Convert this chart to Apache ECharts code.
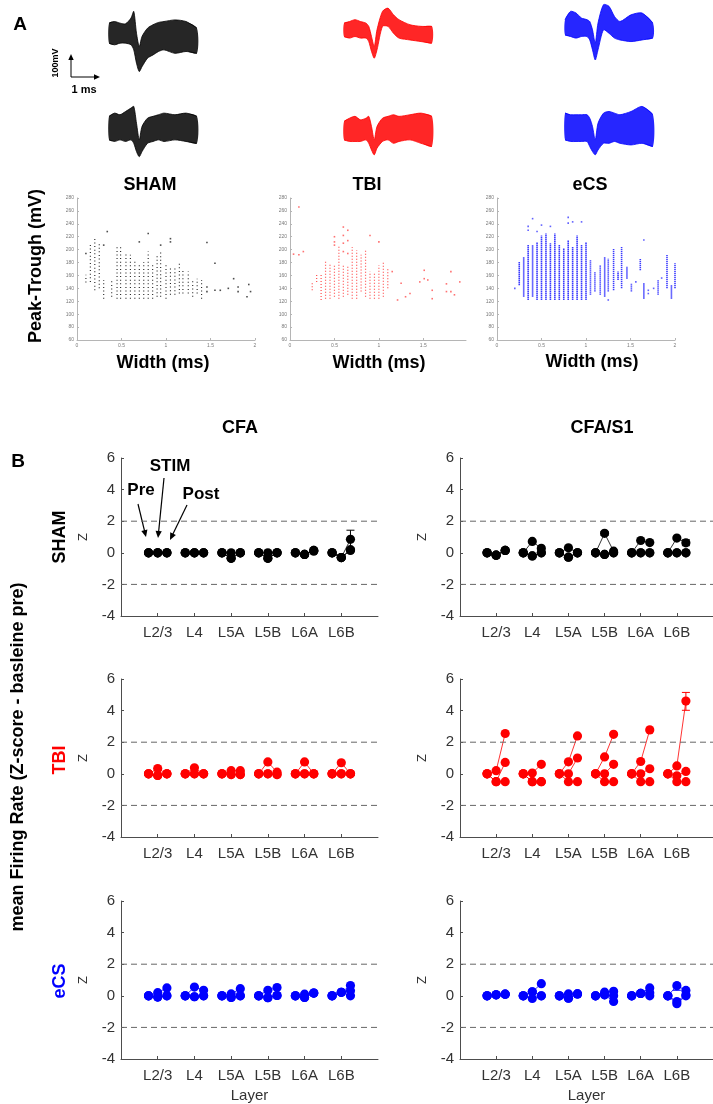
<!DOCTYPE html>
<html>
<head>
<meta charset="utf-8">
<script src="https://cdn.jsdelivr.net/npm/echarts@6/dist/echarts.min.js"></script>
<style>
html, body { margin: 0; padding: 0; background: #fff; }
#chart { width: 713px; height: 1104px; }
</style>
</head>
<body>
<div id="chart"></div>
<script>
// ---- panel A: spike waveforms (envelope of overlaid traces, mV) ----
var waveT = [0, 0.2, 0.4, 0.6, 0.8, 0.9, 1.0, 1.1, 1.2, 1.4, 1.6, 1.8, 2.0, 2.4, 2.8, 3.2];
var shamWave1Hi = [42, 49, 42, 39, 64, 93, -2, -60, -16, 20, 35, 45, 49, 56, 49, 20];
var shamWave1Lo = [-45, -52, -45, -45, -52, -74, -132, -168, -147, -110, -96, -81, -74, -89, -81, -89];
var shamWave2Hi = [15, 29, 22, 36, 51, 58, -15, -87, -29, 7, 15, 22, 29, 22, 29, 15];
var shamWave2Lo = [-87, -94, -87, -94, -87, -102, -138, -160, -138, -102, -94, -87, -94, -87, -94, -102];
var tbiWave1Hi = [42, 49, 57, 49, 42, 28, -16, -60, 13, 93, 107, 78, 57, 35, 28, 28];
var tbiWave1Lo = [-16, -23, -16, -23, -23, -38, -81, -110, -74, 28, 28, -2, -23, -31, -38, -45];
var tbiWave2Hi = [-7, 7, 15, 0, 7, 15, -29, -87, -29, 7, 15, 22, 15, 22, 29, 15];
var tbiWave2Lo = [-87, -94, -94, -94, -87, -102, -131, -152, -123, -94, -87, -102, -94, -87, -102, -116];
var ecsWave1Hi = [57, 93, 86, 64, 57, 49, 13, -45, 42, 122, 115, 71, 49, 78, 86, 42];
var ecsWave1Lo = [-9, -16, -23, -16, -16, -31, -74, -118, -74, 13, -2, -23, -31, -38, -31, -23];
var ecsWave2Hi = [29, 22, 22, 22, 22, 7, -29, -87, -15, 29, 36, 29, 22, 36, 58, 22];
var ecsWave2Lo = [-87, -94, -94, -94, -94, -116, -138, -152, -131, -102, -102, -94, -102, -109, -102, -116];

// ---- panel A: peak-trough vs width; dense columns [width, low, high] + single units [width, mV] ----
var shamCols = [[0.10,149,161],[0.15,150,208],[0.20,137,217],[0.25,140,211],[0.30,124,153],[0.39,127,153],
  [0.45,124,207],[0.49,124,204],[0.55,124,194],[0.60,124,192],[0.65,124,184],[0.70,124,176],[0.75,124,181],
  [0.80,124,197],[0.85,124,176],[0.90,127,192],[0.94,127,197],[1.00,124,176],[1.05,130,171],[1.10,130,171],
  [1.15,132,179],[1.19,132,168],[1.25,132,166],[1.30,127,153],[1.35,132,155],[1.40,124,153]];
var shamPts = [[0.10,194],[0.30,207],[0.34,228],[0.70,212],[0.80,225],[0.94,207],[1.05,217],[1.05,212],
  [1.46,211],[1.46,142],[1.46,135],[1.55,179],[1.55,137],[1.61,137],[1.70,140],[1.76,155],[1.81,142],
  [1.81,135],[1.91,127],[1.93,146],[1.95,135]];
var tbiCols = [[0.25,137,150],[0.30,150,163],[0.35,122,163],[0.40,124,184],[0.45,124,179],[0.50,127,176],
  [0.55,124,207],[0.60,127,176],[0.65,130,176],[0.70,124,204],[0.75,124,199],[0.80,135,192],[0.85,127,199],
  [0.90,124,166],[0.95,124,163],[1.00,124,176],[1.05,127,181],[1.10,140,171]];
var tbiPts = [[0.04,193],[0.10,266],[0.10,192],[0.15,197],[0.50,220],[0.50,212],[0.50,207],[0.60,235],
  [0.60,222],[0.60,210],[0.60,197],[0.65,230],[0.65,214],[0.65,194],[0.90,222],[1.00,212],[1.15,166],
  [1.21,122],[1.25,148],[1.30,127],[1.35,132],[1.46,150],[1.51,168],[1.51,155],[1.55,153],[1.60,137],
  [1.60,124],[1.76,147],[1.76,135],[1.81,166],[1.81,135],[1.85,130],[1.91,150]];
var ecsCols = [[0.25,145,181],[0.30,127,189],[0.35,122,207],[0.40,127,207],[0.45,122,212],[0.50,122,222],
  [0.55,122,225],[0.60,122,210],[0.65,122,225],[0.70,122,207],[0.75,122,202],[0.80,122,215],[0.85,122,204],
  [0.90,122,222],[0.95,122,207],[1.00,122,212],[1.05,130,184],[1.10,135,166],[1.16,130,176],[1.21,127,189],
  [1.25,135,186],[1.31,137,202],[1.36,153,166],[1.40,140,204],[1.46,155,174],[1.51,135,148],[1.61,168,186],
  [1.65,124,148],[1.81,130,153],[1.91,140,192],[1.96,124,145],[2.00,140,179]];
var ecsPts = [[0.20,140],[0.35,236],[0.35,230],[0.40,248],[0.45,228],[0.50,238],[0.60,236],[0.80,250],
  [0.80,241],[0.85,243],[0.95,243],[1.25,122],[1.56,150],[1.65,215],[1.70,137],[1.70,132],[1.76,140],
  [1.85,156]];

// ---- panel B: z-scored firing rate, per layer [pre, stim, post] for three traces ----
var layers = ['L2/3', 'L4', 'L5A', 'L5B', 'L6A', 'L6B'];
var zLimits = [2, -2];

var shamCfa1 = [[0,0,0],[0,0,0],[0,0,0],[0,0,0],[0,-0.1,0.15],[0,-0.3,0.85]];
var shamCfa2 = [[0,0,0],[0,0,0],[0,-0.35,0],[0,-0.35,0],[0,-0.1,0.15],[0,-0.3,0.2]];
var shamCfa3 = [[0,0,0],[0,0,0],[0,-0.35,0],[0,-0.35,0],[0,-0.1,0.1],[0,-0.3,0.15]];
var shamCfaErr = [[6,2,0.3,1.43]];

var shamS1_1 = [[0,-0.15,0.15],[0,0.72,0.28],[0,0.32,0],[0,1.23,0.1],[0,0.78,0.65],[0,0.93,0.63]];
var shamS1_2 = [[0,-0.15,0.15],[0,-0.2,0],[0,-0.28,0],[0,-0.1,0],[0,0,0],[0,0,0]];
var shamS1_3 = [[0,-0.15,0.15],[0,-0.2,0],[0,-0.28,0],[0,-0.1,0],[0,0,0],[0,0,0]];
var shamS1Err = [[4,1,1.1,1.35],[6,2,0.45,0.82]];

var tbiCfa1 = [[0,0.33,0],[0,0.38,0],[0,0.2,0.2],[0,0.75,0.1],[0,0.75,0],[0,0.7,0]];
var tbiCfa2 = [[0,-0.1,0],[0,0,0],[0,-0.05,-0.05],[0,0,-0.05],[0,0,0],[0,0,0]];
var tbiCfa3 = [[0,-0.1,0],[0,0,0],[0,-0.05,-0.05],[0,0,-0.05],[0,0,0],[0,0,0]];
var tbiCfaErr = [];

var tbiS1_1 = [[0,0.2,2.55],[0,0.05,0.6],[0,0.76,2.4],[0,1.07,2.5],[0,0.78,2.78],[0,0.5,4.6]];
var tbiS1_2 = [[0,-0.5,0.72],[0,-0.5,-0.5],[0,0,1.0],[0,0,0.6],[0,0,0.32],[0,-0.13,0.15]];
var tbiS1_3 = [[0,-0.5,-0.5],[0,-0.5,-0.5],[0,-0.5,-0.5],[0,-0.5,-0.5],[0,-0.5,-0.5],[0,-0.5,-0.5]];
var tbiS1Err = [[6,2,4.02,5.15]];

var ecsCfa1 = [[0,0.2,0.5],[0,0.55,0.35],[0,0.12,0.45],[0,0.35,0.52],[0,0.1,0.17],[0,0.22,0.65]];
var ecsCfa2 = [[0,-0.08,0],[0,-0.06,0],[0,-0.1,0],[0,-0.12,0.02],[0,-0.1,0.17],[0,0.22,0.32]];
var ecsCfa3 = [[0,-0.08,0],[0,-0.06,0],[0,-0.1,0],[0,-0.12,0.02],[0,-0.1,0.17],[0,0.22,0]];
var ecsCfaErr = [];

var ecsS1_1 = [[0,0.06,0.1],[0,0.25,0.77],[0,0.12,0.12],[0,0.23,0.28],[0,0.15,0.5],[0,0.64,0.34]];
var ecsS1_2 = [[0,0.06,0.1],[0,-0.17,0],[0,-0.15,0.12],[0,0.06,0],[0,0.15,0.2],[0,-0.36,0.05]];
var ecsS1_3 = [[0,0.06,0.1],[0,0.25,0],[0,-0.15,0.12],[0,0.06,-0.36],[0,0.15,0],[0,-0.5,0]];
var ecsS1Err = [[6,1,0.35,0.8]];

var timeOffset = [-0.25, 0, 0.25];

var FONT = '"Liberation Sans", Arial, sans-serif';
var BLACK = '#000000', RED = '#ff0000', BLUE = '#0000ff';

var chart = echarts.init(document.getElementById('chart'));

var grids = [], xAxes = [], yAxes = [], series = [], graphics = [];

// waveform grids
var waveBoxes = [
  [109, 4, shamWave1Hi, shamWave1Lo, BLACK], [344, 4, tbiWave1Hi, tbiWave1Lo, RED], [565, 4, ecsWave1Hi, ecsWave1Lo, BLUE],
  [109, 91, shamWave2Hi, shamWave2Lo, BLACK], [344, 91, tbiWave2Hi, tbiWave2Lo, RED], [565, 91, ecsWave2Hi, ecsWave2Lo, BLUE]
];
waveBoxes.forEach(function (b) {
  var gi = grids.length;
  grids.push({left: b[0], top: b[1], width: 88, height: 68});
  xAxes.push({gridIndex: gi, type: 'value', min: 0, max: 3.2, show: false});
  yAxes.push({gridIndex: gi, type: 'value', min: -170, max: 125, show: false});
  var hi = b[2], lo = b[3], col = b[4];
  series.push({
    type: 'custom', xAxisIndex: gi, yAxisIndex: gi, silent: true, data: [[0, 0]],
    renderItem: function (params, api) {
      var top = [], bot = [];
      for (var i = 0; i < waveT.length; i++) {
        top.push(api.coord([waveT[i], hi[i]]));
        bot.unshift(api.coord([waveT[i], lo[i]]));
      }
      return {type: 'group', children: [
        {type: 'polygon', shape: {points: top.concat(bot), smooth: 0.25}, style: {fill: col, opacity: 0.85}},
        {type: 'polyline', shape: {points: top, smooth: 0.25}, style: {stroke: col, fill: null, lineWidth: 0.8}},
        {type: 'polyline', shape: {points: bot, smooth: 0.25}, style: {stroke: col, fill: null, lineWidth: 0.8}}
      ]};
    }
  });
});

// scatter grids
var scatBoxes = [
  [77, 178, 2, shamCols, shamPts, '#222222', [1, 2.6], 1.1],
  [290, 176, 1.98, tbiCols, tbiPts, '#ff4d4d', [1, 2], 1.2],
  [497, 178, 2, ecsCols, ecsPts, '#3a3aff', [1.4, 0.6], 1.6]
];
scatBoxes.forEach(function (b) {
  var gi = grids.length;
  grids.push({left: b[0], top: 198, width: b[1], height: 142});
  var axisCommon = {
    axisLine: {show: true, lineStyle: {color: '#b5b5b5', width: 1}},
    axisTick: {show: true, inside: true, length: 2, lineStyle: {color: '#b5b5b5'}},
    splitLine: {show: false}
  };
  xAxes.push(Object.assign({gridIndex: gi, type: 'value', min: 0, max: b[2], interval: 0.5,
    axisLabel: {fontSize: 5, color: '#7a7a7a', fontFamily: FONT, margin: 3, showMaxLabel: b[2] === 2}}, axisCommon));
  yAxes.push(Object.assign({gridIndex: gi, type: 'value', min: 60, max: 280, interval: 20,
    axisLabel: {fontSize: 5, color: '#7a7a7a', fontFamily: FONT, margin: 3}}, axisCommon));
  var col = b[5], dash = b[6], lw = b[7];
  series.push({
    type: 'custom', xAxisIndex: gi, yAxisIndex: gi, silent: true, data: b[3],
    encode: {x: 0, y: [1, 2]},
    renderItem: function (params, api) {
      var p1 = api.coord([api.value(0), api.value(1)]);
      var p2 = api.coord([api.value(0), api.value(2)]);
      return {type: 'line', shape: {x1: p1[0], y1: p1[1], x2: p2[0], y2: p2[1]},
        style: {stroke: col, lineWidth: lw, lineDash: dash}};
    }
  });
  series.push({
    type: 'scatter', xAxisIndex: gi, yAxisIndex: gi, silent: true, data: b[4],
    symbol: 'rect', symbolSize: 1.6, itemStyle: {color: col}
  });
});

// firing-rate panels
var panels = [
  [0, 0, BLACK, [shamCfa1, shamCfa2, shamCfa3], shamCfaErr],
  [0, 1, BLACK, [shamS1_1, shamS1_2, shamS1_3], shamS1Err],
  [1, 0, RED, [tbiCfa1, tbiCfa2, tbiCfa3], tbiCfaErr],
  [1, 1, RED, [tbiS1_1, tbiS1_2, tbiS1_3], tbiS1Err],
  [2, 0, BLUE, [ecsCfa1, ecsCfa2, ecsCfa3], ecsCfaErr],
  [2, 1, BLUE, [ecsS1_1, ecsS1_2, ecsS1_3], ecsS1Err]
];
var rowTops = [458, 679, 901];
var colLefts = [121, 460];

panels.forEach(function (p) {
  var gi = grids.length;
  var row = p[0], colIdx = p[1], col = p[2];
  grids.push({left: colLefts[colIdx], top: rowTops[row], width: 257, height: 158});
  var tickVals = [1, 2, 3, 4, 5, 6];
  xAxes.push({
    gridIndex: gi, type: 'value', min: 0, max: 7,
    name: row === 2 ? 'Layer' : '', nameLocation: 'middle', nameGap: 29,
    nameTextStyle: {fontSize: 15, color: '#333', fontFamily: FONT},
    axisLine: {show: true, onZero: false, lineStyle: {color: '#4d4d4d', width: 1}},
    axisTick: {show: true, inside: true, length: 3, customValues: tickVals, lineStyle: {color: '#4d4d4d'}},
    axisLabel: {customValues: tickVals, fontSize: 15, color: '#333', fontFamily: FONT, margin: 9,
      formatter: function (v) { return layers[v - 1] || ''; }},
    splitLine: {show: false}
  });
  yAxes.push({
    gridIndex: gi, type: 'value', min: -4, max: 6, interval: 2,
    name: 'Z', nameLocation: 'middle', nameGap: 31,
    nameTextStyle: {fontSize: 13, color: '#333', fontFamily: FONT},
    axisLine: {show: true, lineStyle: {color: '#4d4d4d', width: 1}},
    axisTick: {show: true, inside: true, length: 3, lineStyle: {color: '#4d4d4d'}},
    axisLabel: {fontSize: 15, color: '#333', fontFamily: FONT, margin: 6},
    splitLine: {show: false}
  });
  // threshold dashed lines
  zLimits.forEach(function (z) {
    series.push({
      type: 'line', xAxisIndex: gi, yAxisIndex: gi, silent: true, symbol: 'none',
      data: [[0, z], [7, z]],
      lineStyle: {color: '#666', width: 1, type: [6, 4]}
    });
  });
  var items = [];
  p[3].forEach(function (arr) {
    arr.forEach(function (v, li) { items.push([li + 1, v[0], v[1], v[2]]); });
  });
  // connecting lines
  series.push({
    type: 'custom', xAxisIndex: gi, yAxisIndex: gi, silent: true, data: items,
    encode: {x: 0, y: [1, 2, 3]},
    renderItem: function (params, api) {
      var L = api.value(0), pts = [];
      for (var t = 0; t < 3; t++) pts.push(api.coord([L + timeOffset[t], api.value(t + 1)]));
      return {type: 'polyline', shape: {points: pts}, style: {stroke: col, fill: null, lineWidth: 0.8}};
    }
  });
  // error bars
  series.push({
    type: 'custom', xAxisIndex: gi, yAxisIndex: gi, silent: true, data: p[4],
    encode: {x: 0, y: [2, 3]},
    renderItem: function (params, api) {
      var x = api.value(0) + timeOffset[api.value(1)];
      var a = api.coord([x, api.value(2)]), b = api.coord([x, api.value(3)]);
      var st = {stroke: col, lineWidth: 1};
      return {type: 'group', children: [
        {type: 'line', shape: {x1: a[0], y1: a[1], x2: b[0], y2: b[1]}, style: st},
        {type: 'line', shape: {x1: a[0] - 4, y1: a[1], x2: a[0] + 4, y2: a[1]}, style: st},
        {type: 'line', shape: {x1: b[0] - 4, y1: b[1], x2: b[0] + 4, y2: b[1]}, style: st}
      ]};
    }
  });
  // dots
  series.push({
    type: 'custom', xAxisIndex: gi, yAxisIndex: gi, silent: true, data: items,
    encode: {x: 0, y: [1, 2, 3]},
    renderItem: function (params, api) {
      var L = api.value(0), kids = [];
      for (var t = 0; t < 3; t++) {
        var c = api.coord([L + timeOffset[t], api.value(t + 1)]);
        kids.push({type: 'circle', shape: {cx: c[0], cy: c[1], r: 4.6}, style: {fill: col}});
      }
      return {type: 'group', children: kids};
    }
  });
});

// ---- text and annotations ----
function txt(s, x, y, size, opts) {
  opts = opts || {};
  return {
    type: 'text', x: x, y: y, rotation: opts.rot || 0, silent: true,
    style: {text: s, fontSize: size, fontWeight: opts.bold === false ? 'normal' : 'bold',
      fontFamily: FONT, fill: opts.color || '#000', align: 'center', verticalAlign: 'middle'}
  };
}
function arrow(x1, y1, x2, y2, head, w) {
  var a = Math.atan2(y2 - y1, x2 - x1), h = head;
  var pL = [x2 - h * Math.cos(a) + h * 0.45 * Math.sin(a), y2 - h * Math.sin(a) - h * 0.45 * Math.cos(a)];
  var pR = [x2 - h * Math.cos(a) - h * 0.45 * Math.sin(a), y2 - h * Math.sin(a) + h * 0.45 * Math.cos(a)];
  return [
    {type: 'line', silent: true, shape: {x1: x1, y1: y1, x2: x2 - h * 0.6 * Math.cos(a), y2: y2 - h * 0.6 * Math.sin(a)},
      style: {stroke: '#000', lineWidth: w}},
    {type: 'polygon', silent: true, shape: {points: [[x2, y2], pL, pR]}, style: {fill: '#000'}}
  ];
}

var R = Math.PI / 2;
graphics.push(txt('A', 20, 25, 19));
graphics = graphics.concat(arrow(71, 77, 71, 54, 6, 1));
graphics = graphics.concat(arrow(71, 77, 100, 77, 6, 1));
graphics.push(txt('100mV', 56, 63, 9, {rot: R}));
graphics.push(txt('1 ms', 84, 90, 11));

graphics.push(txt('SHAM', 150, 185, 18));
graphics.push(txt('TBI', 367, 185, 18));
graphics.push(txt('eCS', 590, 185, 18));
graphics.push(txt('Peak-Trough (mV)', 36, 266, 18, {rot: R}));
graphics.push(txt('Width (ms)', 163, 363, 18));
graphics.push(txt('Width (ms)', 379, 363, 18));
graphics.push(txt('Width (ms)', 592, 362, 18));

graphics.push(txt('B', 18, 462, 19));
graphics.push(txt('CFA', 240, 428, 18));
graphics.push(txt('CFA/S1', 602, 428, 18));
graphics.push(txt('SHAM', 60, 537, 18, {rot: R}));
graphics.push(txt('TBI', 60, 760, 18, {rot: R, color: RED}));
graphics.push(txt('eCS', 60, 981, 18, {rot: R, color: BLUE}));
graphics.push(txt('mean Firing Rate (Z-score - basleine pre)', 18, 757, 18, {rot: R}));

graphics.push(txt('Pre', 141, 490, 17));
graphics.push(txt('STIM', 170, 466, 17));
graphics.push(txt('Post', 201, 494, 17));
graphics = graphics.concat(arrow(138, 504, 146, 537, 7, 1.2));
graphics = graphics.concat(arrow(164, 478, 158, 538, 7, 1.2));
graphics = graphics.concat(arrow(187, 505, 170, 540, 7, 1.2));

chart.setOption({
  backgroundColor: '#fff',
  animation: false,
  grid: grids,
  xAxis: xAxes,
  yAxis: yAxes,
  series: series,
  graphic: {elements: graphics}
});
</script>
</body>
</html>
